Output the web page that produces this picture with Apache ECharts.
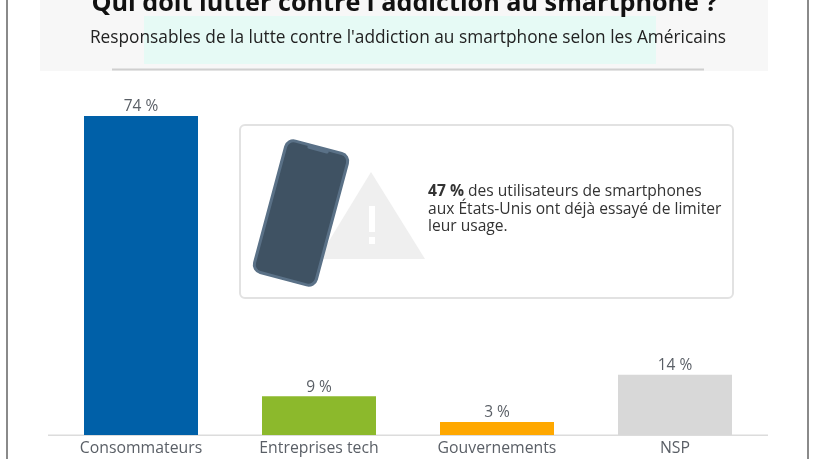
<!DOCTYPE html>
<html><head><meta charset="utf-8">
<style>html,body{margin:0;padding:0;background:#fff}#c{width:816px;height:459px}</style>
<script src="https://cdn.jsdelivr.net/npm/echarts@6/dist/echarts.min.js"></script>
</head><body><div id="c"></div>
<script>
const categories = ['Consommateurs','Entreprises tech','Gouvernements','NSP'];
const values = [74,9,3,14];
const barColors = ['#0060a8','#8cb92c','#ffa800','#d8d8d8'];
const titleText = "Qui doit lutter contre l'addiction au smartphone ?";
const subtitleText = "Responsables de la lutte contre l'addiction au smartphone selon les Américains";
const noteLines = ['{b|47 %} des utilisateurs de smartphones','aux États-Unis ont déjà essayé de limiter','leur usage.'];
const FONT = '"Open Sans"';
const chart = echarts.init(document.getElementById('c'), null, {renderer:'canvas'});
chart.setOption({
  animation:false,
  backgroundColor:'#fff',
  grid:{left:52,width:712,top:35,height:400,containLabel:false},
  xAxis:{type:'category',data:categories,
    axisLine:{show:false},axisTick:{show:false},
    axisLabel:{color:'#5a5f66',fontFamily:FONT,fontSize:15.8,margin:5,interval:0}},
  yAxis:{type:'value',min:0,max:92.8,show:false,splitLine:{show:false}},
  series:[{type:'bar',barWidth:114,z:3,
    data:values.map((v,i)=>({value:v,itemStyle:{color:barColors[i]}})),
    label:{show:true,position:'top',distance:1,color:'#5a5f66',fontFamily:FONT,fontSize:15.5,formatter:p=>p.value+' %'}}],
  graphic:[
    {type:'rect',z:0,shape:{x:40,y:0,width:728,height:71},style:{fill:'#f7f7f7'}},
    {type:'rect',z:0,shape:{x:144,y:16,width:512,height:48},style:{fill:'#e6faf5'}},
    {type:'rect',z:1,shape:{x:112,y:68.5,width:592,height:2},style:{fill:'#cfcfcf'}},
    {type:'rect',z:1,shape:{x:6,y:0,width:2,height:459},style:{fill:'#8a8a8a'}},
    {type:'rect',z:1,shape:{x:807,y:0,width:2,height:459},style:{fill:'#8a8a8a'}},
    {type:'rect',z:1,shape:{x:48,y:434.5,width:720,height:1.5},style:{fill:'#dcdcdc'}},
    {type:'text',z:5,style:{x:404.5,y:4,text:titleText,align:'center',verticalAlign:'middle',fill:'#111',font:'700 25.2px '+FONT}},
    {type:'text',z:5,style:{x:408,y:38,text:subtitleText,align:'center',verticalAlign:'middle',fill:'#222',font:'400 17.3px '+FONT}},
    {type:'rect',z:1,shape:{x:240,y:125,width:493,height:173,r:5},style:{fill:'#fff',stroke:'#e2e2e2',lineWidth:2}},
    {type:'polygon',z:2,shape:{points:[[371,172],[425,259],[318,259]]},style:{fill:'#efefef'}},
    {type:'rect',z:2,shape:{x:369,y:206,width:6,height:26},style:{fill:'#fff'}},
    {type:'rect',z:2,shape:{x:369,y:237,width:6,height:7},style:{fill:'#fff'}},
    {type:'group',z:3,x:301,y:213,rotation:-15*Math.PI/180,children:[
      {type:'rect',z:3,shape:{x:-32,y:-68,width:64,height:136,r:8},style:{fill:'#3f5263',stroke:'#5a7187',lineWidth:3}},
      {type:'rect',z:4,shape:{x:-11,y:-68,width:22,height:4,r:2},style:{fill:'#5a7187'}}
    ]},
    {type:'text',z:5,style:{x:428,y:183,text:noteLines.join('\n'),align:'left',fill:'#333',
      font:'400 15.6px '+FONT,lineHeight:17.5,rich:{b:{font:'700 15.6px '+FONT,fill:'#333',lineHeight:17.5}}}}
  ]
});
</script></body></html>
